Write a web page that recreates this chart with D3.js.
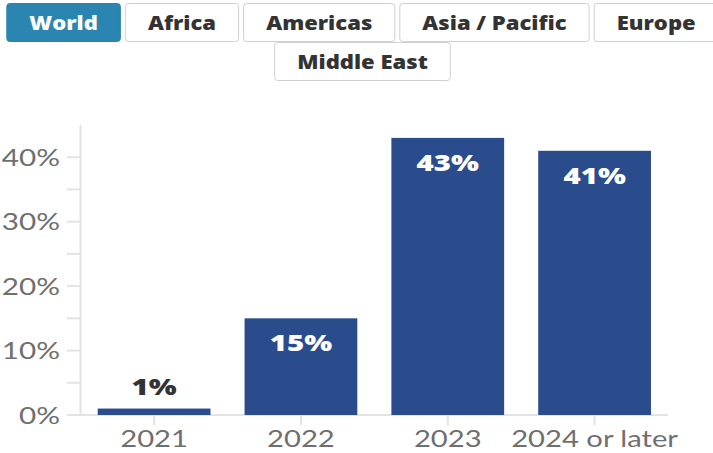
<!DOCTYPE html>
<html><head><meta charset="utf-8">
<script src="https://cdn.jsdelivr.net/npm/d3@7"></script>
<style>
html,body{margin:0;padding:0;background:#fff;overflow:hidden;}
svg{display:block;}
</style></head>
<body>
<svg id="chart" width="713" height="453"></svg>
<script>
// ---- data ----
const regions = ["World", "Africa", "Americas", "Asia / Pacific", "Europe", "Middle East"];
const activeRegion = "World";
const categories = ["2021", "2022", "2023", "2024 or later"];
const values = [1, 15, 43, 41];
const yTicks = [0, 10, 20, 30, 40];
const yMinorTicks = [5, 15, 25, 35];

// ---- layout ----
const svg = d3.select("#chart");
const SX = 1.27; // horizontal stretch of glyphs seen in the reference
const BSX = 1.16;

// buttons
const btnFont = "'Open Sans', sans-serif";
const btnG = svg.append("g");
const containerW = 725, gap = 4, pad = 23, rowH = 39, rowTop = 3;
const btns = regions.map(r => {
  const t = btnG.append("text").attr("font-family", btnFont).attr("font-weight", 800)
    .attr("font-size", 19).text(r);
  const w = t.node().getComputedTextLength() * BSX;
  t.remove();
  return {name: r, w: w + pad * 2, tw: w};
});
// flow rows
const rows = [];
let cur = [], curW = 0;
btns.forEach(b => {
  const add = (cur.length ? gap : 0) + b.w;
  if (cur.length && curW + add > containerW) { rows.push(cur); cur = []; curW = 0; }
  curW += (cur.length ? gap : 0) + b.w; cur.push(b);
});
if (cur.length) rows.push(cur);
rows.forEach((row, ri) => {
  const tot = d3.sum(row, d => d.w) + gap * (row.length - 1);
  let x = (containerW - tot) / 2;
  row.forEach(b => {
    const y = rowTop + ri * rowH;
    const active = b.name === activeRegion;
    btnG.append("rect").attr("x", x + 0.5).attr("y", y + 0.5).attr("width", b.w - 1).attr("height", rowH - 1)
      .attr("rx", 3).attr("fill", active ? "#2a86b0" : "#fff")
      .attr("stroke", active ? "#2a86b0" : "#d0d0d0").attr("stroke-width", 1);
    btnG.append("text").attr("transform", `translate(${x + b.w / 2},${y + rowH / 2 + 7}) scale(${BSX},1)`)
      .attr("text-anchor", "middle").attr("font-family", btnFont).attr("font-weight", 800)
      .attr("font-size", 19).attr("fill", active ? "#fff" : "#333").text(b.name);
    x += b.w + gap;
  });
});

// chart
const x = d3.scaleBand().domain(categories).range([80.7, 668]).paddingInner(0.232).paddingOuter(0.116);
const y = d3.scaleLinear().domain([0, 45]).range([415, 125]);
const axisColor = "#e3e3e3";
const labelFont = "Lato, 'Open Sans', sans-serif";

// y axis
const yg = svg.append("g");
yg.append("line").attr("x1", 80.5).attr("x2", 80.5).attr("y1", y(45)).attr("y2", y(0)).attr("stroke", axisColor).attr("stroke-width", 2);
yg.selectAll("line.maj").data(yTicks).join("line").attr("class", "maj")
  .attr("x1", 67).attr("x2", 80).attr("y1", d => y(d)).attr("y2", d => y(d)).attr("stroke", axisColor).attr("stroke-width", 2);
yg.selectAll("line.min").data(yMinorTicks).join("line").attr("class", "min")
  .attr("x1", 67).attr("x2", 80).attr("y1", d => y(d)).attr("y2", d => y(d)).attr("stroke", axisColor).attr("stroke-width", 2);
yg.selectAll("text").data(yTicks).join("text")
  .attr("transform", d => `translate(60,${y(d) + 8.5}) scale(1.29,1)`)
  .attr("text-anchor", "end").attr("font-family", labelFont).attr("font-size", 23).attr("fill", "#6f6f6f")
  .text(d => d + "%");

// baseline
svg.append("line").attr("x1", 80).attr("x2", 668).attr("y1", y(0)).attr("y2", y(0)).attr("stroke", axisColor).attr("stroke-width", 2);

// x ticks + labels
const xg = svg.append("g");
xg.selectAll("line").data(categories).join("line")
  .attr("x1", d => x(d) + x.bandwidth() / 2).attr("x2", d => x(d) + x.bandwidth() / 2)
  .attr("y1", y(0)).attr("y2", y(0) + 10).attr("stroke", axisColor).attr("stroke-width", 2);
xg.selectAll("text").data(categories).join("text")
  .attr("transform", d => `translate(${x(d) + x.bandwidth() / 2},447) scale(${SX},1)`)
  .attr("text-anchor", "middle").attr("font-family", labelFont).attr("font-size", 23).attr("fill", "#6f6f6f")
  .text(d => d);

// bars
const data = categories.map((c, i) => ({c, v: values[i]}));
svg.append("g").selectAll("rect").data(data).join("rect")
  .attr("x", d => x(d.c)).attr("width", x.bandwidth())
  .attr("y", d => y(d.v)).attr("height", d => y(0) - y(d.v))
  .attr("fill", "#2b4c8c");

// value labels
svg.append("g").selectAll("text").data(data).join("text")
  .attr("transform", d => {
    const inside = (y(0) - y(d.v)) > 40;
    const ty = inside ? y(d.v) + 33 : y(d.v) - 14;
    return `translate(${x(d.c) + x.bandwidth() / 2},${ty}) scale(1.28,1)`;
  })
  .attr("text-anchor", "middle").attr("font-family", "'Open Sans', sans-serif").attr("font-weight", 800)
  .attr("font-size", 23)
  .attr("fill", d => (y(0) - y(d.v)) > 40 ? "#fff" : "#333")
  .text(d => d.v + "%");
</script>
</body></html>
